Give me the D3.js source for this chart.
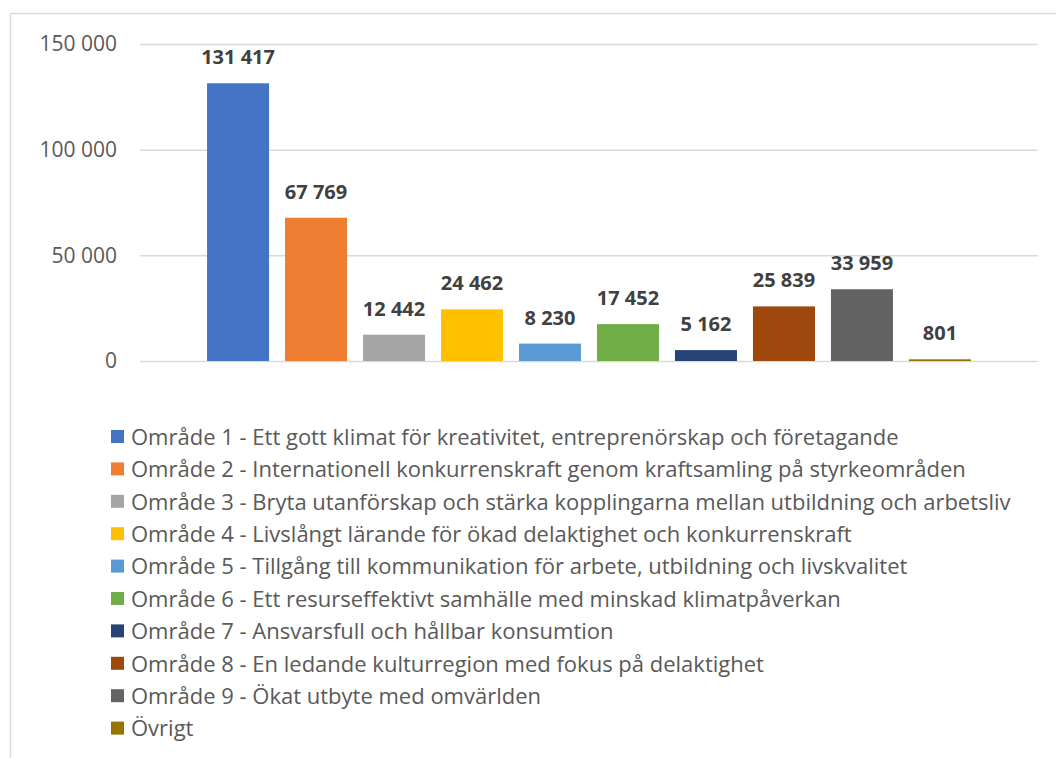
<!DOCTYPE html>
<html>
<head>
<meta charset="utf-8">
<script src="https://cdn.jsdelivr.net/npm/d3@7"></script>
<style>
  body { margin: 0; background: #fff; }
  svg { display: block; font-family: "Open Sans", sans-serif; }
</style>
</head>
<body>
<div id="canvas"></div>
<script>
// data
const areas = [
    "Område 1 - Ett gott klimat för kreativitet, entreprenörskap och företagande",
    "Område 2 - Internationell konkurrenskraft genom kraftsamling på styrkeområden",
    "Område 3 - Bryta utanförskap och stärka kopplingarna mellan utbildning och arbetsliv",
    "Område 4 - Livslångt lärande för ökad delaktighet och konkurrenskraft",
    "Område 5 - Tillgång till kommunikation för arbete, utbildning och livskvalitet",
    "Område 6 - Ett resurseffektivt samhälle med minskad klimatpåverkan",
    "Område 7 - Ansvarsfull och hållbar konsumtion",
    "Område 8 - En ledande kulturregion med fokus på delaktighet",
    "Område 9 - Ökat utbyte med omvärlden",
    "Övrigt"
];
const values = [131417, 67769, 12442, 24462, 8230, 17452, 5162, 25839, 33959, 801];
const colors = ["#4472C4", "#ED7D31", "#A5A5A5", "#FFC000", "#5B9BD5", "#70AD47", "#264478", "#9E480E", "#636363", "#997300"];
const yTicks = [0, 50000, 100000, 150000];

const width = 1056;
const height = 758;
const margin = { top: 44, left: 140, right: 18 };
const plotBottom = 361;

const fmt = v => d3.format(",")(v).replace(/,/g, " ");

const svg = d3.select("#canvas").append("svg")
    .attr("width", width)
    .attr("height", height);

// chart frame (only top and left edge visible)
svg.append("path")
    .attr("d", `M10.5,${height} L10.5,13.5 L${width},13.5`)
    .attr("fill", "none")
    .attr("stroke", "#d9d9d9")
    .attr("stroke-width", 1.5);

const y = d3.scaleLinear()
    .domain([0, 150000])
    .range([plotBottom, margin.top]);

const x = d3.scaleBand()
    .domain(areas)
    .range([margin.left, width - margin.right])
    .paddingInner(0.205)
    .paddingOuter(0.86);

// grid
const yAxis = svg.append("g")
    .attr("transform", `translate(${margin.left},0)`)
    .call(d3.axisLeft(y).tickValues(yTicks).tickFormat(fmt)
        .tickSize(-(width - margin.right - margin.left)).tickPadding(23));
yAxis.select(".domain").remove();
yAxis.selectAll("line").attr("stroke", "#d9d9d9").attr("stroke-width", 1.5);
yAxis.selectAll("text")
    .attr("fill", "#595959")
    .style("font-size", "21px")
    .style("font-family", "Open Sans, sans-serif");

// bars
svg.selectAll("rect.bar").data(areas)
    .enter().append("rect")
    .attr("class", "bar")
    .attr("x", d => x(d))
    .attr("y", (d, i) => y(values[i]))
    .attr("width", x.bandwidth())
    .attr("height", (d, i) => Math.max(1.5, y(0) - y(values[i])))
    .attr("fill", (d, i) => colors[i]);

// value labels
svg.selectAll("text.lbl").data(areas)
    .enter().append("text")
    .attr("class", "lbl")
    .attr("x", d => x(d) + x.bandwidth() / 2)
    .attr("y", (d, i) => y(values[i]) - 19)
    .attr("text-anchor", "middle")
    .attr("fill", "#404040")
    .style("font-size", "20px")
    .style("font-weight", "bold")
    .text((d, i) => fmt(values[i]));

// legend
const legend = svg.append("g");
const row = legend.selectAll("g").data(areas)
    .enter().append("g")
    .attr("transform", (d, i) => `translate(111,${437 + i * 32.4})`);
row.append("rect")
    .attr("x", 0)
    .attr("y", -7)
    .attr("width", 13)
    .attr("height", 13)
    .attr("fill", (d, i) => colors[i]);
row.append("text")
    .attr("x", 20)
    .attr("y", 0)
    .attr("dy", "0.35em")
    .attr("fill", "#595959")
    .style("font-size", "22px")
    .text(d => d);
</script>
</body>
</html>
